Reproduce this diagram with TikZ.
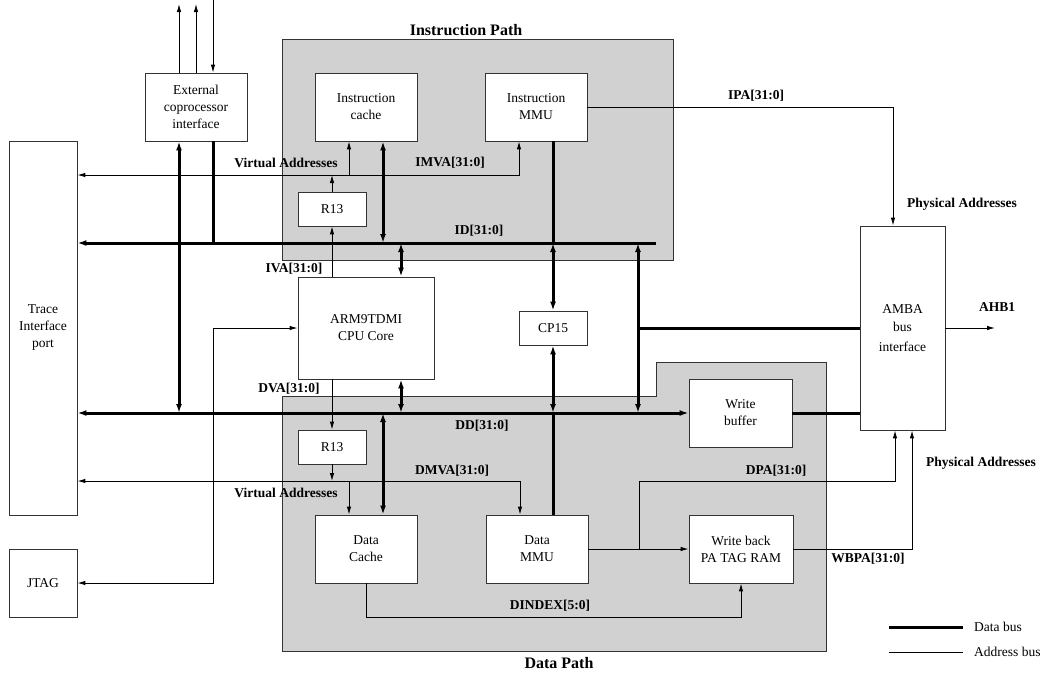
\documentclass[tikz,border=0pt]{standalone}
\usepackage{fontspec}
\setmainfont{Liberation Serif}
\usetikzlibrary{arrows.meta}% filled arrow heads
\definecolor{pathgray}{RGB}{209,209,209}
\tikzset{every node/.style={font=\fontsize{13.5}{17}\selectfont},
  blk/.style={draw=black!80, fill=white, line width=0.8pt, align=center,
    inner sep=0pt, minimum width=102pt, minimum height=68pt},
  lbl/.style={font=\fontsize{13.5}{17}\selectfont\bfseries, inner sep=0pt},
  ttl/.style={font=\fontsize{16}{19}\selectfont\bfseries, inner sep=0pt},
  dbus/.style={line width=3pt, >={Latex[length=9pt,width=6pt]}},
  abus/.style={line width=0.9pt, >={Latex[length=8pt,width=4.5pt]}},
  pathbox/.style={fill=pathgray, draw=black!80, line width=0.8pt}}

\begin{document}
\begin{tikzpicture}[x=1pt,y=-1pt]
\useasboundingbox (0,0) rectangle (1041,673);
% the two grey paths
\filldraw[pathbox] (282,39) rectangle (673,260);
\filldraw[pathbox] (282,396) -- (656,396) -- (656,362) -- (826,362)
    -- (826,651) -- (282,651) -- cycle;
\node[ttl] (ipath) at (466,30) {Instruction Path};
\node[ttl] (dpath) at (559,663) {Data Path};
% blocks
\node[blk] (ecop) at (196,107) {External\\coprocessor\\interface};
\node[blk, minimum width=68pt, minimum height=374pt] (trace) at (43,328)
    {Trace\\Interface\\port};
\node[blk, minimum width=68pt] (jtag) at (43,583) {JTAG};
\node[blk] (icache) at (366,107) {Instruction\\cache};
\node[blk] (immu) at (536,107) {Instruction\\MMU};
\node[blk, minimum width=68pt, minimum height=34pt] (ir13) at (332,209) {R13};
\node[blk, minimum width=136pt, minimum height=102pt] (cpu) at (366,328)
    {ARM9TDMI\\CPU Core};
\node[blk, minimum width=68pt, minimum height=34pt] (cp15) at (553,328) {CP15};
\node[blk, minimum width=85pt, minimum height=204pt] (amba) at (902.5,328)
    {AMBA\\[1pt]bus\\[3pt]interface};
\node[blk, minimum width=103pt] (wbuf) at (740.5,413) {Write\\buffer};
\node[blk, minimum width=68pt, minimum height=34pt] (dr13) at (332,447) {R13};
\node[blk] (dcache) at (366,549) {Data\\Cache};
\node[blk] (dmmu) at (537,549) {Data\\MMU};
\node[blk, minimum width=104pt] (wbram) at (741,549) {Write back\\PA TAG RAM};
% junctions and free ends
\coordinate (idend) at (656,243);
\coordinate (imva) at (519,175);
\coordinate (dmva) at (520,481);
\coordinate (ddj) at (638,328);
\coordinate (dpaj) at (639,481);
\coordinate (dindex) at (366,617);
\coordinate (jtx) at (213,328);
\coordinate (ahb) at (995,328);
\coordinate (cpo1) at (179,4);
\coordinate (cpo2) at (196,4);
\coordinate (cpi) at (213,0);
\coordinate (icd) at ([xshift=17pt]icache.south);
\coordinate (icv) at ([xshift=-17pt]icache.south);
\coordinate (cpd) at ([xshift=35pt]cpu.north);
\coordinate (mmd) at ([xshift=17pt]immu.south);
\coordinate (mmv) at ([xshift=-17pt]immu.south);
\coordinate (dcd) at ([xshift=17pt]dcache.north);
\coordinate (dcv) at ([xshift=-17pt]dcache.north);
\coordinate (dmv) at ([xshift=-17pt]dmmu.north);
\coordinate (ipa) at ([xshift=-9.5pt]amba.north);
\coordinate (dpa) at ([xshift=-7.5pt]amba.south);
\coordinate (wbpa) at ([xshift=9.5pt]amba.south);
% data buses
\draw[dbus,->] (idend) -- (idend -| trace.east);
\draw[dbus,<->] (wbuf.west -| trace.east) -- (wbuf.west);
\draw[dbus] (wbuf.east) -- (amba.west |- wbuf.east);
\draw[dbus,<->] (ecop.south -| cpo1) -- (wbuf.west -| cpo1);
\draw[dbus] (ecop.south -| cpi) -- (idend -| cpi);
\draw[dbus,<->] (icd) -- (icd |- idend);
\draw[dbus,<->] (idend -| cpd) -- (cpd);
\draw[dbus,<->] (cpu.south -| cpd) -- (wbuf.west -| cpd);
\draw[dbus] (mmd) -- (mmd |- idend);
\draw[dbus,<->] (idend -| cp15.north) -- (cp15.north);
\draw[dbus,<->] (cp15.south) -- (wbuf.west -| cp15.south);
\draw[dbus] (wbuf.west -| cp15.south) -- (dmmu.north -| cp15.south);
\draw[dbus,<->] (idend -| ddj) -- (wbuf.west -| ddj);
\draw[dbus] (ddj) -- (amba.west);
\draw[dbus,<->] (wbuf.west -| dcd) -- (dcd);
% address buses
\draw[abus,->] (cpo1 |- ecop.north) -- (cpo1);
\draw[abus,->] (cpo2 |- ecop.north) -- (cpo2);
\draw[abus,->] (cpi) -- (cpi |- ecop.north);
\draw[abus,<->] (mmv) -- (imva) -- (imva -| trace.east);
\draw[abus,->] (icv |- imva) -- (icv);
\draw[abus,->] (ir13.north) -- (ir13.north |- imva);
\draw[abus,->] (cpu.north -| ir13) -- (ir13.south);
\draw[abus,->] (immu.east) -| (ipa);
\draw[abus,->] (amba.east) -- (ahb);
\draw[abus,<->] (jtag.east) -| (jtx) -- (cpu.west);
\draw[abus,->] (cpu.south -| dr13) -- (dr13.north);
\draw[abus,->] (dr13.south) -- (dr13.south |- dmva);
\draw[abus,<->] (dmva -| trace.east) -- (dmva) -- (dmv);
\draw[abus,->] (dcv |- dmva) -- (dcv);
\draw[abus,->] (dmmu.east) -- (wbram.west);
\draw[abus,->] (dpaj |- dmmu.east) -- (dpaj) -| (dpa);
\draw[abus,->] (wbram.east) -| (wbpa);
\draw[abus,->] (dcache.south) -- (dindex) -| (wbram.south);
% bus labels
\node[lbl] (iva1) at (286,163) {Virtual Addresses};
\node[lbl] (imval) at (450,163) {IMVA[31:0]};
\node[lbl] (idl) at (479,231) {ID[31:0]};
\node[lbl] (ival) at (294,269) {IVA[31:0]};
\node[lbl] (dval) at (289,389) {DVA[31:0]};
\node[lbl] (ipal) at (756,96) {IPA[31:0]};
\node[lbl] (pa1) at (962,204) {Physical Addresses};
\node[lbl] (ahbl) at (997,307) {AHB1};
\node[lbl] (ddl) at (482,426) {DD[31:0]};
\node[lbl] (dmval) at (452,471) {DMVA[31:0]};
\node[lbl] (va2) at (286,493) {Virtual Addresses};
\node[lbl] (dpal) at (776,471) {DPA[31:0]};
\node[lbl] (pa2) at (981,463) {Physical Addresses};
\node[lbl] (wbpal) at (868,559) {WBPA[31:0]};
\node[lbl] (dindexl) at (550,606) {DINDEX[5:0]};
% legend
\node[anchor=west, inner sep=0pt] (ldata) at (974,627) {Data bus};
\node[anchor=west, inner sep=0pt] (laddr) at (974,652) {Address bus};
\draw[dbus] ([xshift=-11pt]ldata.west) -- ++(-74,0);
\draw[abus] ([xshift=-11pt]laddr.west) -- ++(-74,0);
\end{tikzpicture}
\end{document}
